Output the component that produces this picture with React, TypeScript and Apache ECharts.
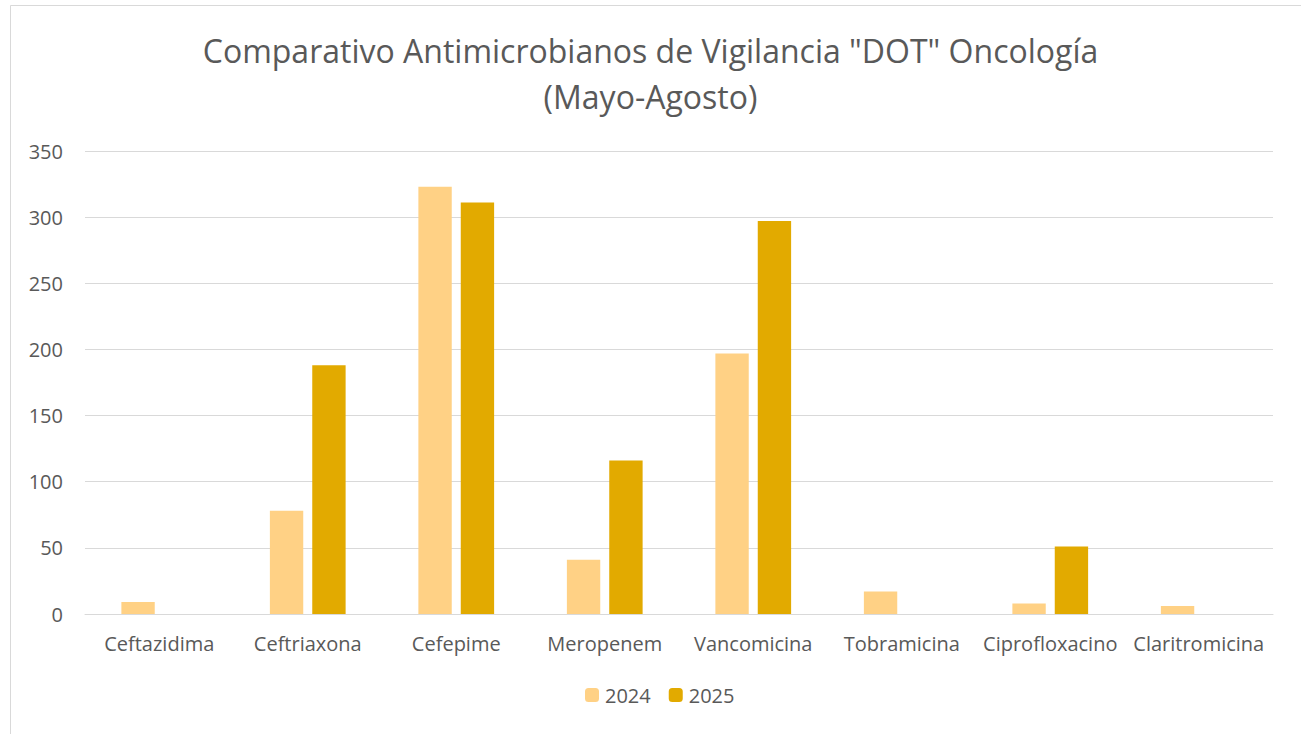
import React, { useEffect, useRef } from "react";
import * as echarts from "echarts";

const categories = ["Ceftazidima", "Ceftriaxona", "Cefepime", "Meropenem", "Vancomicina", "Tobramicina", "Ciprofloxacino", "Claritromicina"];
const values2024 = [9, 78, 323, 41, 197, 17, 8, 6];
const values2025 = [0, 188, 311, 116, 297, 0, 51, 0];
const titleLines = ["Comparativo Antimicrobianos de Vigilancia \"DOT\" Oncología", "(Mayo-Agosto)"];
const seriesNames = ["2024", "2025"];

const FONT = "'Open Sans', 'Liberation Sans', sans-serif";

export default function App() {
  const ref = useRef<HTMLDivElement>(null);
  useEffect(() => {
    const chart = echarts.init(ref.current!, null, { renderer: "svg" });
    chart.setOption({
      animation: false,
      textStyle: { fontFamily: FONT },
      title: {
        text: titleLines.join("\n"),
        left: "center",
        top: 22,
        textStyle: { fontFamily: FONT, fontSize: 32, fontWeight: "normal", color: "#595959", lineHeight: 46 },
      },
      legend: {
        bottom: 24,
        left: 580,
        itemWidth: 14,
        itemHeight: 14,
        itemGap: 18,
        itemStyle: { borderWidth: 0 },
        textStyle: { fontFamily: FONT, fontSize: 20, color: "#595959", padding: [0, 0, 0, 1] },
        data: seriesNames,
      },
      graphic: [
        { type: "rect", shape: { x: 10.5, y: 5.5, width: 1300, height: 740 }, style: { fill: "none", stroke: "#d9d9d9", lineWidth: 1 }, silent: true },
      ],
      grid: { left: 85, right: 28, top: 151, bottom: 120, containLabel: false },
      xAxis: {
        type: "category",
        data: categories,
        axisLine: { lineStyle: { color: "#d9d9d9", width: 1 } },
        axisTick: { show: false },
        axisLabel: { fontFamily: FONT, fontSize: 20, color: "#595959", margin: 19, interval: 0 },
      },
      yAxis: {
        type: "value",
        min: 0,
        max: 350,
        interval: 50,
        axisLine: { show: false },
        axisTick: { show: false },
        axisLabel: { fontFamily: FONT, fontSize: 20, color: "#595959", margin: 22 },
        splitLine: { lineStyle: { color: "#d9d9d9", width: 1 } },
      },
      series: [
        { name: seriesNames[0], type: "bar", data: values2024, itemStyle: { color: "#FFD185" }, barGap: "27%", barCategoryGap: "49%" },
        { name: seriesNames[1], type: "bar", data: values2025, itemStyle: { color: "#E2AA00" } },
      ],
    });
    return () => chart.dispose();
  }, []);
  return <div ref={ref} style={{ position: "fixed", left: 0, top: 0, width: 1301, height: 734, background: "#fff" }} />;
}
